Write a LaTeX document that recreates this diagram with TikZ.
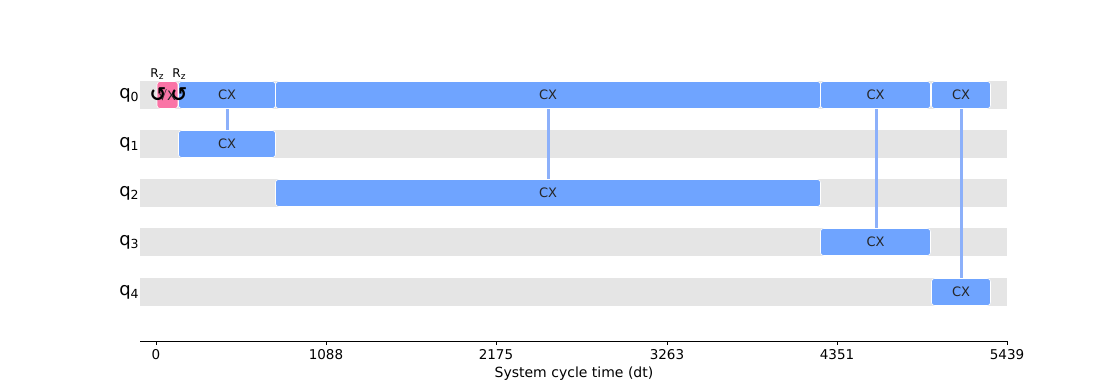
\documentclass[tikz,border=0pt]{standalone}
\usepackage{fontspec}
\setmainfont{DejaVu Sans}
\definecolor{cxblue}{HTML}{6FA4FF}
\definecolor{sxpink}{HTML}{FA74A6}
\definecolor{barg}{RGB}{229,229,229}
\definecolor{linkblue}{RGB}{140,176,250}
\begin{document}
\begin{tikzpicture}[x=1pt,y=-1pt,
  bar/.style={fill=barg, draw=none, minimum height=28pt, minimum width=867pt, inner sep=0pt},
  gate/.style={draw=white, line width=0.6pt, rounded corners=3pt, minimum height=27pt, inner sep=0pt, font=\fontsize{13}{14}\selectfont, text=black!85},
  cx/.style={gate, fill=cxblue},
  sx/.style={gate, fill=sxpink},
  link/.style={draw=linkblue, line width=3pt},
  qlab/.style={font=\fontsize{18}{19}\selectfont, text=black, inner sep=0pt},
  rzsym/.style={font=\bfseries\fontsize{20}{20}\selectfont, inner sep=0pt},
  rzlab/.style={font=\fontsize{12}{13}\selectfont, inner sep=0pt},
  tick/.style={font=\fontsize{13.5}{15}\selectfont, inner sep=0pt},
  axlab/.style={font=\fontsize{14}{15}\selectfont, inner sep=0pt}
]
\useasboundingbox (0,0) rectangle (1120,384);
% qubit bars
\node[bar] (b0) at (573.5,95) {};
\node[bar] (b1) at (573.5,144) {};
\node[bar] (b2) at (573.5,193) {};
\node[bar] (b3) at (573.5,242) {};
\node[bar] (b4) at (573.5,292) {};
% qubit labels
\node[qlab] (q0) at (129,95) {q\raisebox{-3.5pt}{\fontsize{12.5}{12}\selectfont 0}};
\node[qlab] (q1) at (129,144) {q\raisebox{-3.5pt}{\fontsize{12.5}{12}\selectfont 1}};
\node[qlab] (q2) at (129,193) {q\raisebox{-3.5pt}{\fontsize{12.5}{12}\selectfont 2}};
\node[qlab] (q3) at (129,242) {q\raisebox{-3.5pt}{\fontsize{12.5}{12}\selectfont 3}};
\node[qlab] (q4) at (129,292) {q\raisebox{-3.5pt}{\fontsize{12.5}{12}\selectfont 4}};
% links
\draw[link] (227,108) coordinate (l1a) -- (227,131) coordinate (l1b);
\draw[link] (548,108) coordinate (l2a) -- (548,180) coordinate (l2b);
\draw[link] (876,108) coordinate (l3a) -- (876,229) coordinate (l3b);
\draw[link] (961,108) coordinate (l4a) -- (961,279) coordinate (l4b);
% gates on q0
\node[sx, minimum width=21pt] (sx0) at (167.5,95) {};
\node[gate, draw=none, fill=none] (sxt) at (167.5,95) {√X};
\node[cx, minimum width=97pt] (c0a) at (227,95) {CX};
\node[cx, minimum width=545pt] (c0b) at (548,95) {CX};
\node[cx, minimum width=110pt] (c0c) at (875.5,95) {CX};
\node[cx, minimum width=59pt] (c0d) at (961,95) {CX};
% target gates
\node[cx, minimum width=97pt] (c1) at (227,144) {CX};
\node[cx, minimum width=545pt] (c2) at (548,193) {CX};
\node[cx, minimum width=110pt] (c3) at (875.5,242) {CX};
\node[cx, minimum width=59pt] (c4) at (961,292) {CX};
% virtual Rz
\node[rzsym] (rz1) at (158,95) {↺};
\node[rzsym] (rz2) at (179,95) {↺};
\node[rzlab] (rzl1) at (157,74) {R\raisebox{-2pt}{\fontsize{9}{9}\selectfont z}};
\node[rzlab] (rzl2) at (179,74) {R\raisebox{-2pt}{\fontsize{9}{9}\selectfont z}};
% axis
\coordinate (axL) at (140,341);
\coordinate (axR) at (1007,341);
\draw[line width=0.8pt] (axL) -- (axR);
\foreach \x/\t in {156/0, 326/1088, 496/2175, 667/3263, 837/4351, 1007/5439}{
  \draw[line width=0.8pt] (\x,341) -- (\x,345);
  \node[tick] at (\x,355) {\t};
}
\node[axlab] (xl) at (574,374) {System cycle time (dt)};
\end{tikzpicture}
\end{document}
